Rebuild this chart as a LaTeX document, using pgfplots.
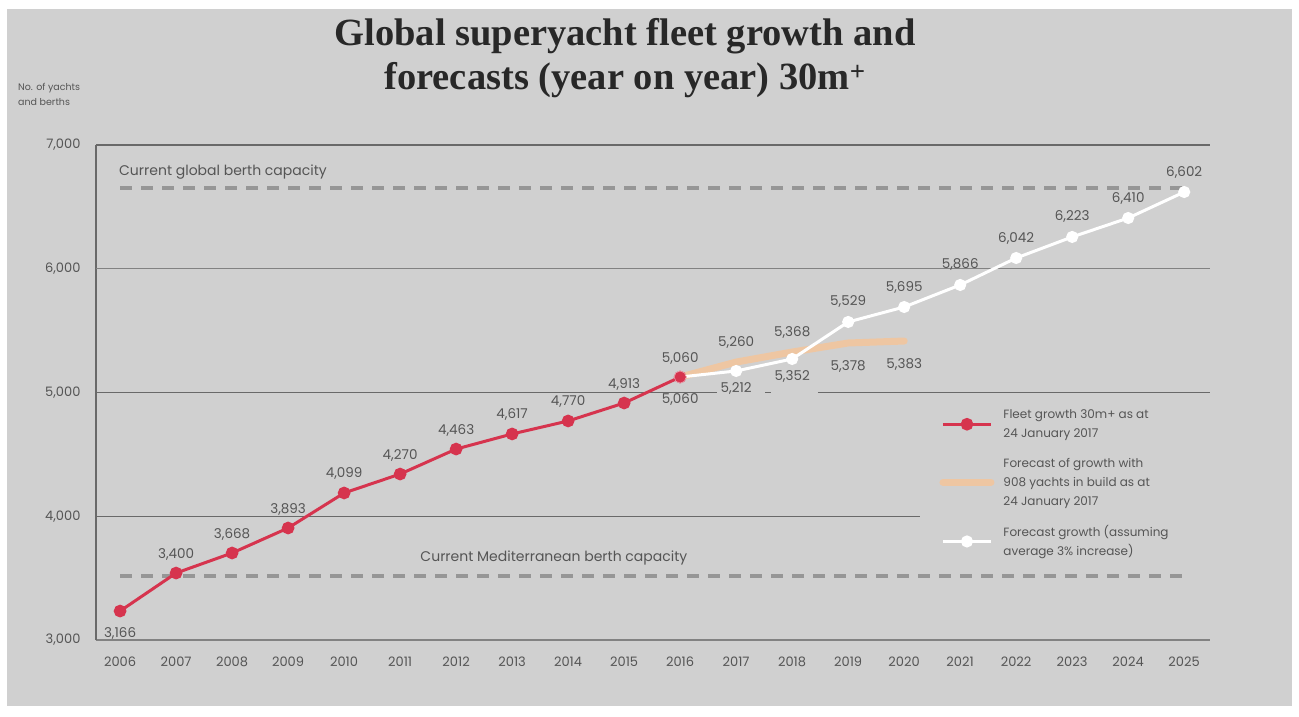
\documentclass[border=0pt]{standalone}
\usepackage{fontspec}
\setmainfont{Poppins}
\newfontfamily\titlefont{Liberation Serif}
\usepackage{pgfplots}
\pgfplotsset{compat=1.18}
\usepackage{pgfplotstable}

\definecolor{bg}{RGB}{208,208,208}
\definecolor{fleetred}{RGB}{214,52,78}
\definecolor{peach}{RGB}{242,198,158}
\definecolor{berth}{RGB}{150,150,150}
\definecolor{gridc}{RGB}{105,105,105}
\definecolor{gridl}{RGB}{130,130,130}
\definecolor{txt}{RGB}{85,85,85}
\definecolor{titlec}{RGB}{40,40,40}

% plotted positions (year, value)
\pgfplotstableread{
x y
2006 3234
2007 3541
2008 3703
2009 3905
2010 4188
2011 4341
2012 4543
2013 4665
2014 4770
2015 4915
2016 5125
}\fleet
\pgfplotstableread{
x y
2016 5125
2017 5246
2018 5327
2019 5400
2020 5416
}\gob
\pgfplotstableread{
x y
2016 5125
2017 5174
2018 5271
2019 5570
2020 5691
2021 5869
2022 6087
2023 6257
2024 6410
2025 6620
}\forecast
% printed labels
\pgfplotstableread{
x y lab
2007 3541 3,400
2008 3703 3,668
2009 3905 3,893
2010 4188 4,099
2011 4341 4,270
2012 4543 4,463
2013 4665 4,617
2014 4770 4,770
2015 4915 4,913
2016 5125 5,060
}\fleetabove
\pgfplotstableread{
x y lab
2006 3234 3,166
2016 5125 5,060
}\fleetbelow
\pgfplotstableread{
x y lab
2017 5246 5,260
2018 5327 5,368
}\gobabove
\pgfplotstableread{
x y lab
2019 5400 5,378
2020 5416 5,383
}\gobbelow
\pgfplotstableread{
x y lab
2019 5570 5,529
2020 5691 5,695
2021 5869 5,866
2022 6087 6,042
2023 6257 6,223
2024 6410 6,410
2025 6620 6,602
}\forecastabove
\pgfplotstableread{
x y lab
2017 5174 5,212
2018 5271 5,352
}\forecastbelow

\begin{document}
\begin{tikzpicture}
\path[use as bounding box] (0,0) rectangle (1299pt,716pt);
\fill[white] (0,0) rectangle (1299pt,716pt);
\fill[bg] (7pt,10pt) rectangle (1292pt,707pt);

\node[font=\titlefont\bfseries\fontsize{38.5}{44}\selectfont, align=center, text=titlec, anchor=north, inner sep=0pt] at (625pt,698pt)
  {Global superyacht fleet growth and\\forecasts (year on year) 30m\textsuperscript{+}};

\node[font=\fontsize{9.5}{15}\selectfont, align=left, text=txt, anchor=north west, inner sep=0pt] at (18pt,633pt)
  {No. of yachts\\and berths};

\begin{axis}[
  at={(96pt,76pt)}, anchor=south west,
  scale only axis, width=1114pt, height=495pt,
  xmin=2005.57, xmax=2025.46, ymin=3000, ymax=7000,
  axis x line*=bottom, axis y line*=left,
  x axis line style={line width=2.5pt, color=gridl, -},
  y axis line style={line width=1.5pt, color=gridc, -},
  xtick={2006,...,2025}, ytick={3000,4000,5000,6000,7000},
  tick style={draw=none},
  /pgf/number format/assume math mode=true,
  tick label style={font=\fontsize{13}{15}\selectfont, text=txt},
  xticklabel style={/pgf/number format/1000 sep={}, yshift=-13pt},
  yticklabel style={/pgf/number format/1000 sep={,}, xshift=-12pt},
  clip=false,
  legend cell align=left,
  legend style={at={(0.757,0.470)}, anchor=north west, draw=none, fill=none,
    font=\fontsize{12}{19}\selectfont, text=txt, cells={align=left}, row sep=15pt, inner sep=0pt,
    /tikz/every odd column/.append style={column sep=7pt}},
  legend image code/.code={
    \draw[mark repeat=2,mark phase=2,#1] plot coordinates {(0pt,0pt) (24pt,0pt) (48pt,0pt)};
  },
  nodes near coords style={font=\fontsize{13.5}{15}\selectfont, text=txt, inner sep=1pt},
]
% grid lines
\draw[line width=1.5pt, gridc] (axis cs:2005.57,7000) -- (axis cs:2025.46,7000);
\draw[line width=1pt, gridl] (axis cs:2005.57,6000) -- (axis cs:2025.46,6000);
\draw[line width=1.5pt, gridc] (axis cs:2005.57,5000) -- (axis cs:2016.66,5000);
\draw[line width=1.5pt, gridc] (axis cs:2017.52,5000) -- (axis cs:2017.62,5000);
\draw[line width=1.5pt, gridc] (axis cs:2018.46,5000) -- (axis cs:2025.46,5000);
\draw[line width=1pt, gridc] (axis cs:2005.57,4000) -- (axis cs:2020.29,4000);

% berth capacity lines
\addplot[forget plot, berth, line width=4pt, dash pattern=on 12pt off 9pt] coordinates {(2006,6653) (2025,6653)};
\addplot[forget plot, berth, line width=4pt, dash pattern=on 12pt off 9pt] coordinates {(2006,3517) (2025,3517)};
\node[anchor=west, font=\fontsize{14}{16}\selectfont, text=txt, inner sep=0pt] at (axis cs:2005.98,6653) [yshift=16pt] {Current global berth capacity};
\node[anchor=west, font=\fontsize{14}{16}\selectfont, text=txt, inner sep=0pt] at (axis cs:2011.36,3517) [yshift=18pt] {Current Mediterranean berth capacity};

% series
\addplot[fleetred, line width=3pt, mark=*, mark size=4.8pt, mark options={fill=fleetred, draw=fleetred}] table[x=x,y=y] {\fleet};
\addlegendentry{Fleet growth 30m+ as at\\24 January 2017}
\addplot[peach, line width=7pt, line join=round, line cap=round, opacity=0.9] table[x=x,y=y] {\gob};
\addlegendentry{Forecast of growth with\\908 yachts in build as at\\24 January 2017}
\addplot[white, line width=3pt, mark=*, mark size=4.5pt, mark options={fill=white, draw=white}] table[x=x,y=y] {\forecast};
\addlegendentry{Forecast growth (assuming\\average 3\% increase)}
% red end points on top
\addplot[forget plot, only marks, mark=*, mark size=5.5pt, fleetred] coordinates {(2016,5125) (2006,3234)};

% labels
\addplot[forget plot, draw=none, mark=none, nodes near coords, point meta=explicit symbolic,
  every node near coord/.append style={anchor=center, yshift=19pt}] table[x=x,y=y,meta=lab] {\fleetabove};
\addplot[forget plot, draw=none, mark=none, nodes near coords, point meta=explicit symbolic,
  every node near coord/.append style={anchor=center, yshift=-22pt}] table[x=x,y=y,meta=lab] {\fleetbelow};
\addplot[forget plot, draw=none, mark=none, nodes near coords, point meta=explicit symbolic,
  every node near coord/.append style={anchor=center, yshift=20pt}] table[x=x,y=y,meta=lab] {\gobabove};
\addplot[forget plot, draw=none, mark=none, nodes near coords, point meta=explicit symbolic,
  every node near coord/.append style={anchor=center, yshift=-23pt}] table[x=x,y=y,meta=lab] {\gobbelow};
\addplot[forget plot, draw=none, mark=none, nodes near coords, point meta=explicit symbolic,
  every node near coord/.append style={anchor=center, yshift=20pt}] table[x=x,y=y,meta=lab] {\forecastabove};
\addplot[forget plot, draw=none, mark=none, nodes near coords, point meta=explicit symbolic,
  every node near coord/.append style={anchor=center, yshift=-18pt}] table[x=x,y=y,meta=lab] {\forecastbelow};
\end{axis}
\end{tikzpicture}
\end{document}
